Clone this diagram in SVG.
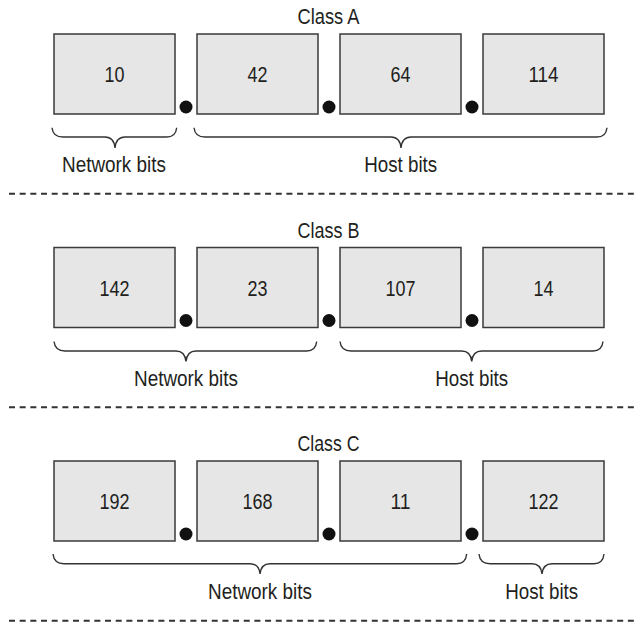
<svg xmlns="http://www.w3.org/2000/svg" width="635" height="623" viewBox="0 0 635 623">
<style>
text{font-family:"Liberation Sans",Arial,sans-serif;font-size:22px;fill:#231f20;text-anchor:middle}
.box{fill:#e6e6e7;stroke:#3a3a3a;stroke-width:1.5}
.dot{fill:#111}
.brace{fill:none;stroke:#333;stroke-width:1.4}
.sep{fill:none;stroke:#333;stroke-width:2;stroke-dasharray:6 4.67}
</style>
<rect width="635" height="623" fill="#fff"/>
<g id="separators">
<line class="sep" x1="9" y1="193.7" x2="634" y2="193.7"/>
<line class="sep" x1="9" y1="407.2" x2="634" y2="407.2"/>
<line class="sep" x1="9" y1="620.7" x2="634" y2="620.7"/>
</g>
<g id="titles">
<text x="328.5" y="24" textLength="62" lengthAdjust="spacingAndGlyphs">Class A</text>
<text x="328.5" y="237.5" textLength="62" lengthAdjust="spacingAndGlyphs">Class B</text>
<text x="328.5" y="451" textLength="62" lengthAdjust="spacingAndGlyphs">Class C</text>
</g>
<g id="classA">
<g id="a1"><rect class="box" x="54" y="34" width="121" height="80"/><text x="114.5" y="82" textLength="20" lengthAdjust="spacingAndGlyphs">10</text></g>
<g id="a2"><rect class="box" x="197" y="34" width="121" height="80"/><text x="257.5" y="82" textLength="20" lengthAdjust="spacingAndGlyphs">42</text></g>
<g id="a3"><rect class="box" x="340" y="34" width="121" height="80"/><text x="400.5" y="82" textLength="20" lengthAdjust="spacingAndGlyphs">64</text></g>
<g id="a4"><rect class="box" x="483" y="34" width="121" height="80"/><text x="543.5" y="82" textLength="30" lengthAdjust="spacingAndGlyphs">114</text></g>
<circle class="dot" cx="186" cy="107" r="6.5"/>
<circle class="dot" cx="329" cy="107" r="6.5"/>
<circle class="dot" cx="472" cy="107" r="6.5"/>
<text x="114" y="172" textLength="104" lengthAdjust="spacingAndGlyphs">Network bits</text>
<text x="400.7" y="172" textLength="73" lengthAdjust="spacingAndGlyphs">Host bits</text>
</g>
<g id="classB">
<g id="b1"><rect class="box" x="54" y="247.5" width="121" height="80"/><text x="114.5" y="295.5" textLength="30" lengthAdjust="spacingAndGlyphs">142</text></g>
<g id="b2"><rect class="box" x="197" y="247.5" width="121" height="80"/><text x="257.5" y="295.5" textLength="20" lengthAdjust="spacingAndGlyphs">23</text></g>
<g id="b3"><rect class="box" x="340" y="247.5" width="121" height="80"/><text x="400.5" y="295.5" textLength="30" lengthAdjust="spacingAndGlyphs">107</text></g>
<g id="b4"><rect class="box" x="483" y="247.5" width="121" height="80"/><text x="543.5" y="295.5" textLength="20" lengthAdjust="spacingAndGlyphs">14</text></g>
<circle class="dot" cx="186" cy="320.5" r="6.5"/>
<circle class="dot" cx="329" cy="320.5" r="6.5"/>
<circle class="dot" cx="472" cy="320.5" r="6.5"/>
<text x="186" y="385.5" textLength="104" lengthAdjust="spacingAndGlyphs">Network bits</text>
<text x="471.7" y="385.5" textLength="73" lengthAdjust="spacingAndGlyphs">Host bits</text>
</g>
<g id="classC">
<g id="c1"><rect class="box" x="54" y="461" width="121" height="80"/><text x="114.5" y="509" textLength="30" lengthAdjust="spacingAndGlyphs">192</text></g>
<g id="c2"><rect class="box" x="197" y="461" width="121" height="80"/><text x="257.5" y="509" textLength="30" lengthAdjust="spacingAndGlyphs">168</text></g>
<g id="c3"><rect class="box" x="340" y="461" width="121" height="80"/><text x="400.5" y="509" textLength="20" lengthAdjust="spacingAndGlyphs">11</text></g>
<g id="c4"><rect class="box" x="483" y="461" width="121" height="80"/><text x="543.5" y="509" textLength="30" lengthAdjust="spacingAndGlyphs">122</text></g>
<circle class="dot" cx="186" cy="534" r="6.5"/>
<circle class="dot" cx="329" cy="534" r="6.5"/>
<circle class="dot" cx="472" cy="534" r="6.5"/>
<text x="260" y="598.5" textLength="104" lengthAdjust="spacingAndGlyphs">Network bits</text>
<text x="541.7" y="598.5" textLength="73" lengthAdjust="spacingAndGlyphs">Host bits</text>
</g>
<g id="connectors">
<path class="brace" d="M52,127.7 Q53,137 63,137 L105,137 Q114,137 115,148 Q116,137 125,137 L166.7,137 Q175.7,137 176.7,127.7"/>
<path class="brace" d="M194,127.7 Q195,137 205,137 L391,137 Q400,137 401,148 Q402,137 411,137 L597,137 Q606,137 607,127.7"/>
<path class="brace" d="M54,341.5 Q55,351 65,351 L176,351 Q185,351 186,361.5 Q187,351 196,351 L306.7,351 Q315.7,351 316.7,341.5"/>
<path class="brace" d="M340,341.5 Q341,351 351,351 L461.7,351 Q470.7,351 471.7,361.5 Q472.7,351 481.7,351 L593,351 Q602,351 603,341.5"/>
<path class="brace" d="M53,554 Q54,563.7 64,563.7 L250,563.7 Q259,563.7 260,574 Q261,563.7 270,563.7 L456.7,563.7 Q465.7,563.7 466.7,554"/>
<path class="brace" d="M479,554 Q480,563.7 490,563.7 L532,563.7 Q541,563.7 542,574 Q543,563.7 552,563.7 L594,563.7 Q603,563.7 604,554"/>
</g>
</svg>
